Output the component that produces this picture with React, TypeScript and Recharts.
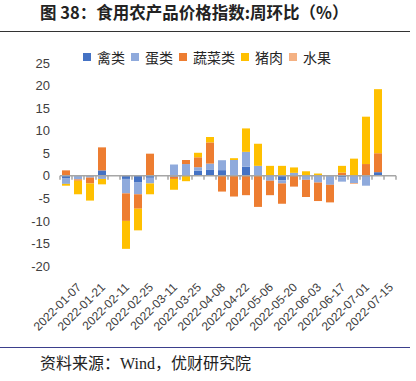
import React from 'react';
import { BarChart, Bar, XAxis, YAxis, ReferenceLine, Legend } from 'recharts';

const dates = [
  '2022-01-07', '2022-01-14', '2022-01-21', '2022-01-28', '2022-02-11', '2022-02-18', '2022-02-25',
  '2022-03-04', '2022-03-11', '2022-03-18', '2022-03-25', '2022-04-01', '2022-04-08', '2022-04-15',
  '2022-04-22', '2022-04-29', '2022-05-06', '2022-05-13', '2022-05-20', '2022-05-27', '2022-06-03',
  '2022-06-10', '2022-06-17', '2022-06-24', '2022-07-01', '2022-07-08', '2022-07-15', '2022-07-22',
];
const poultry = [-0.5, 0, 0, 1.2, null, -0.7, -1.5, -0.45, null, -0.2, 0, 1.1, 1.4, 1.25, 0.3, 2.0, 0.1, 0, -1.0, 0.3, 0, 0, 0, -0.3, 0, -0.2, 0.8, null];
const eggs = [-1.3, -0.8, -0.4, -0.7, null, -3.2, -2.6, -1.25, null, 2.5, 2.6, 0.8, 1.3, 2.2, 3.2, 3.3, 2.1, -1.1, -0.7, 0.35, -0.9, -1.5, -2.0, -1.0, -1.6, -2.0, 0, null];
const vegetables = [1.2, -0.3, -1.3, 5.1, null, -6.1, -3.2, 4.9, null, -0.5, 0.9, 2.2, 4.7, -3.5, -4.6, -4.3, -6.9, -3.2, -4.5, -2.4, -3.8, -4.1, -3.9, 0.7, 0, 2.6, 4.2, null];
const pork = [-0.4, -3.0, -3.8, -1.2, null, -6.2, -4.8, -2.4, null, -2.4, -1.2, 1.0, 1.2, 0, 0.4, 5.2, 4.9, 2.2, 2.2, 1.2, 1.0, 0.5, 0, 1.5, 3.8, 10.5, 14.2, null];
const fruit = [0, 0, 0, 0, null, 0, 0, 0, null, 0, 0, 0, 0, 0, 0, 0, 0, 0, 0, 0, 0, 0, 0, 0, -0.2, 0, 0, null];

const yTicks = [-20, -15, -10, -5, 0, 5, 10, 15, 20, 25];
const seriesNames = ['禽类', '蛋类', '蔬菜类', '猪肉', '水果'];
const seriesColors = ['#4472C4', '#8FAADC', '#ED7D31', '#FFC000', '#F4B183'];
const seriesValues = [poultry, eggs, vegetables, pork, fruit];

const data = dates.map((d, i) => {
  const row: Record<string, any> = { date: d };
  seriesValues.forEach((arr, k) => {
    row['s' + k] = arr[i];
  });
  return row;
});

const LegendContent = () => (
  <div style={{ display: 'flex', justifyContent: 'flex-start', alignItems: 'center', fontFamily: '"Noto Sans CJK SC", sans-serif', fontSize: '14px', lineHeight: '20px', color: '#262626', whiteSpace: 'nowrap' }}>
    {seriesNames.map((n, i) => (
      <div key={n} style={{ display: 'flex', alignItems: 'center', marginRight: 6 }}>
        <span style={{ width: 8, height: 8, background: seriesColors[i], marginRight: 6, display: 'inline-block' }} />
        <span style={{ fontSize: '14px' }}>{n}</span>
      </div>
    ))}
  </div>
);

const XTick = (props: any) => {
  const { x, y, payload } = props;
  const tx = x + 16;
  const ty = y + 22;
  return (
    <text x={tx} y={ty} transform={`rotate(-45 ${tx} ${ty})`} textAnchor="end" fontSize={12} fill="#404040" fontFamily="'Liberation Sans', sans-serif">
      {payload.value}
    </text>
  );
};

const ZeroAxis = (props: any) => {
  const { x1, y1, x2 } = props;
  const n = dates.length;
  const ticks = [];
  for (let k = 0; k <= n; k++) {
    const x = x1 + (k * (x2 - x1)) / n;
    ticks.push(<line key={k} x1={x} x2={x} y1={y1} y2={y1 + 4} stroke="#a6a6a6" strokeWidth={1.5} />);
  }
  return (
    <g>
      <line x1={x1} x2={x2} y1={y1} y2={y1} stroke="#a6a6a6" strokeWidth={1.5} />
      {ticks}
    </g>
  );
};

export default function App() {
  return (
    <div style={{ position: 'absolute', left: 0, top: 0, width: 416, height: 381, background: '#fff', fontFamily: '"Noto Sans CJK SC", sans-serif' }}>
      <div style={{ position: 'absolute', left: 40, top: 1, fontSize: 16.5, fontWeight: 'bold', color: '#222', whiteSpace: 'nowrap', lineHeight: '22px' }}>
        图 38：食用农产品价格指数:周环比（%）
      </div>
      <div style={{ position: 'absolute', left: 0, top: 31, width: 410, height: 1, background: '#333' }} />
      <div style={{ position: 'absolute', left: 0, top: 0 }}>
        <BarChart width={416} height={381} data={data} stackOffset="sign" margin={{ top: 43, right: 20, bottom: 55, left: 0 }} barCategoryGap={2}>
          <XAxis dataKey="date" height={60} interval={1} tickSize={0} tickMargin={0} axisLine={false} tickLine={false} tick={<XTick />} />
          <YAxis width={60} domain={[-20, 25]} ticks={yTicks} axisLine={false} tickLine={false} tickSize={6} tickMargin={4} tick={{ fontSize: 13, fill: '#404040', fontFamily: "'Liberation Sans', sans-serif" }} interval={0} />
          <Legend verticalAlign="top" align="left" height={20} content={<LegendContent />} wrapperStyle={{ top: 47, left: 83, width: 330, height: 20, margin: 0, padding: 0, textAlign: 'left' }} />
          {seriesNames.map((n, k) => (
            <Bar key={n} dataKey={'s' + k} name={n} stackId="a" fill={seriesColors[k]} isAnimationActive={false} />
          ))}
          <ReferenceLine y={0} shape={<ZeroAxis />} />
        </BarChart>
      </div>
      <div style={{ position: 'absolute', left: 0, top: 347, width: 410, height: 1, background: '#3b3f8c' }} />
      <div style={{ position: 'absolute', left: 40, top: 354, fontSize: 16, color: '#222', whiteSpace: 'nowrap', lineHeight: '20px', fontFamily: "'Liberation Serif', 'Noto Sans CJK SC', serif" }}>
        资料来源：Wind，优财研究院
      </div>
    </div>
  );
}
